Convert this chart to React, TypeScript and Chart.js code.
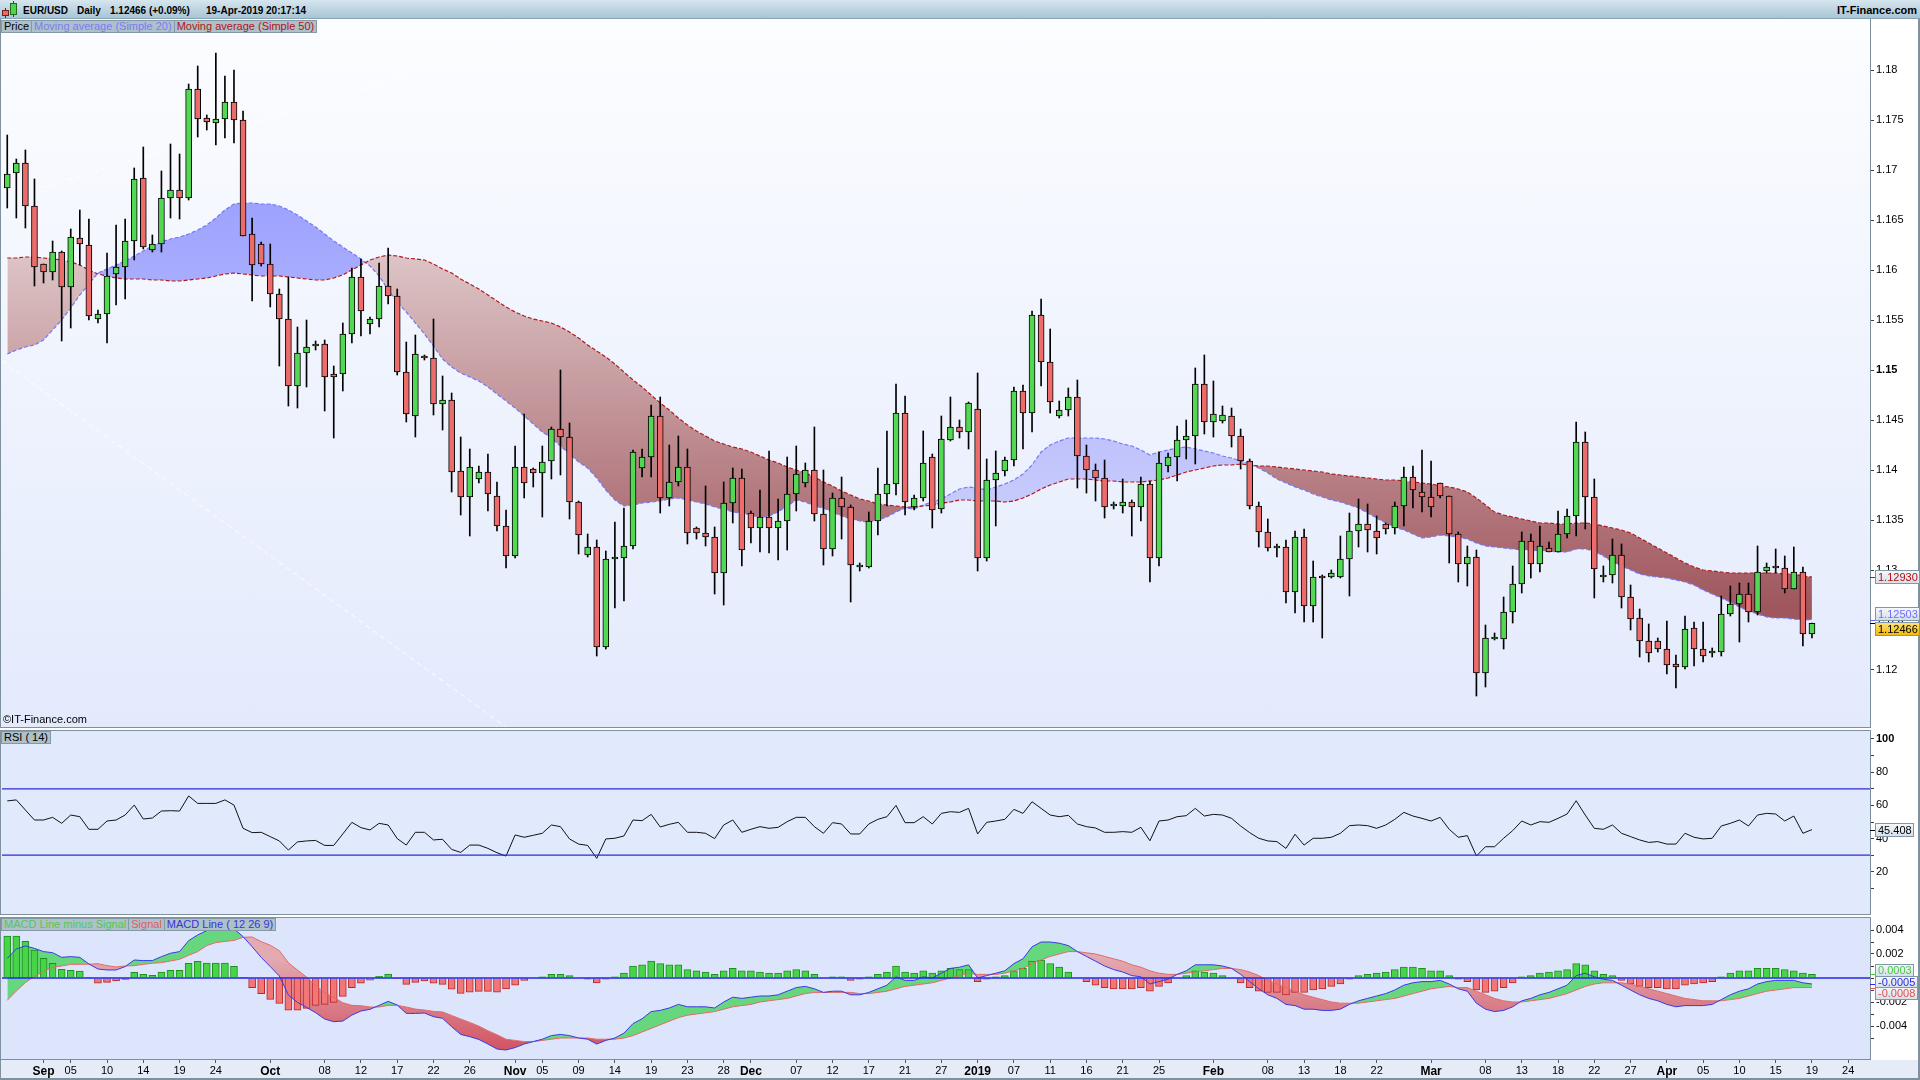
import React, { useEffect, useRef } from 'react';
import { Chart, registerables } from 'chart.js';

Chart.register(...registerables);

const FONT = '"Liberation Sans", Arial, Helvetica, sans-serif';

// ---------------- DATA ----------------
const firstDate = '2018-08-28';
const lastAxisDate = '2019-04-26';
const closedDates = ['2018-12-25', '2019-01-01'];

const opens = [1.1682,1.1697,1.1707,1.1664,1.1606,1.1598,1.1618,1.1583,1.1632,1.1625,
1.1551,1.1556,1.1596,1.1603,1.1629,1.1692,1.1620,1.1626,1.1672,1.1680,
1.1672,1.1781,1.1752,1.1747,1.1751,1.1768,1.1750,1.1636,1.1626,1.1606,
1.1576,1.1551,1.1484,1.1517,1.1524,1.1526,1.1496,1.1496,1.1536,1.1593,
1.1546,1.1551,1.1584,1.1574,1.1498,1.1454,1.1513,1.1512,1.1466,1.1470,
1.1399,1.1373,1.1391,1.1398,1.1374,1.1344,1.1314,1.1403,1.1401,1.1397,
1.1409,1.1441,1.1433,1.1368,1.1315,1.1323,1.1223,1.1311,1.1312,1.1324,
1.1402,1.1413,1.1454,1.1372,1.1388,1.1403,1.1342,1.1337,1.1333,1.1297,
1.1367,1.1392,1.1357,1.1342,1.1353,1.1342,1.1349,1.1376,1.1387,1.1400,
1.1356,1.1321,1.1372,1.1363,1.1303,1.1303,1.1349,1.1376,1.1386,1.1457,
1.1363,1.1372,1.1413,1.1361,1.1430,1.1443,1.1438,1.1461,1.1312,1.1390,
1.1399,1.1410,1.1479,1.1457,1.1555,1.1508,1.1454,1.1460,1.1473,1.1414,
1.1400,1.1392,1.1364,1.1364,1.1368,1.1363,1.1386,1.1312,1.1404,1.1413,
1.1430,1.1434,1.1486,1.1448,1.1449,1.1454,1.1434,1.1409,1.1364,1.1338,
1.1322,1.1323,1.1278,1.1333,1.1264,1.1293,1.1293,1.1293,1.1311,1.1339,
1.1346,1.1339,1.1346,1.1342,1.1364,1.1393,1.1378,1.1373,1.1387,1.1374,
1.1336,1.1306,1.1313,1.1197,1.1231,1.1231,1.1258,1.1286,1.1329,1.1306,
1.1322,1.1318,1.1336,1.1354,1.1428,1.1373,1.1293,1.1295,1.1315,1.1273,
1.1252,1.1229,1.1229,1.1221,1.1206,1.1203,1.1242,1.1221,1.1217,1.1218,
1.1256,1.1266,1.1276,1.1258,1.1299,1.1303,1.1302,1.1281,1.1298,1.1236];

const highs = [1.1735,1.1711,1.1720,1.1691,1.1606,1.1629,1.1619,1.1641,1.1660,1.1651,
1.1560,1.1617,1.1645,1.1651,1.1702,1.1723,1.1635,1.1699,1.1726,1.1716,
1.1786,1.1804,1.1755,1.1817,1.1794,1.1800,1.1759,1.1652,1.1628,1.1626,
1.1581,1.1593,1.1543,1.1550,1.1529,1.1530,1.1504,1.1547,1.1602,1.1611,
1.1553,1.1607,1.1622,1.1581,1.1528,1.1535,1.1515,1.1551,1.1494,1.1477,
1.1433,1.1421,1.1404,1.1416,1.1388,1.1360,1.1424,1.1456,1.1402,1.1424,
1.1443,1.1500,1.1447,1.1369,1.1336,1.1330,1.1319,1.1348,1.1362,1.1420,
1.1421,1.1465,1.1473,1.1425,1.1434,1.1421,1.1343,1.1384,1.1343,1.1388,
1.1402,1.1401,1.1359,1.1380,1.1419,1.1371,1.1413,1.1424,1.1407,1.1443,
1.1400,1.1377,1.1393,1.1365,1.1307,1.1358,1.1402,1.1439,1.1486,1.1474,
1.1375,1.1439,1.1416,1.1454,1.1473,1.1450,1.1468,1.1497,1.1411,1.1419,
1.1413,1.1483,1.1485,1.1559,1.1571,1.1541,1.1469,1.1482,1.1490,1.1425,
1.1406,1.1410,1.1368,1.1391,1.1370,1.1393,1.1389,1.1418,1.1417,1.1444,
1.1450,1.1502,1.1515,1.1489,1.1464,1.1462,1.1441,1.1411,1.1368,1.1351,
1.1326,1.1330,1.1339,1.1341,1.1309,1.1295,1.1300,1.1334,1.1357,1.1371,
1.1366,1.1354,1.1347,1.1368,1.1403,1.1404,1.1420,1.1409,1.1387,1.1374,
1.1338,1.1324,1.1320,1.1245,1.1237,1.1273,1.1304,1.1338,1.1336,1.1344,
1.1328,1.1359,1.1361,1.1448,1.1438,1.1391,1.1304,1.1331,1.1326,1.1285,
1.1261,1.1246,1.1232,1.1249,1.1215,1.1254,1.1248,1.1248,1.1222,1.1274,
1.1284,1.1287,1.1287,1.1324,1.1307,1.1321,1.1314,1.1323,1.1303,1.1247];

const lows = [1.1662,1.1652,1.1642,1.1584,1.1587,1.1590,1.1529,1.1542,1.1605,1.1550,
1.1547,1.1527,1.1565,1.1571,1.1610,1.1621,1.1618,1.1618,1.1652,1.1651,
1.1670,1.1733,1.1740,1.1725,1.1732,1.1727,1.1634,1.1569,1.1604,1.1563,
1.1504,1.1464,1.1462,1.1483,1.1520,1.1459,1.1432,1.1479,1.1527,1.1534,
1.1536,1.1543,1.1566,1.1495,1.1448,1.1433,1.1510,1.1455,1.1440,1.1378,
1.1355,1.1334,1.1387,1.1359,1.1339,1.1302,1.1312,1.1372,1.1383,1.1353,
1.1391,1.1395,1.1351,1.1316,1.1313,1.1214,1.1221,1.1262,1.1269,1.1321,
1.1393,1.1393,1.1357,1.1364,1.1384,1.1326,1.1331,1.1324,1.1276,1.1265,
1.1347,1.1304,1.1327,1.1318,1.1317,1.1310,1.1320,1.1359,1.1383,1.1349,
1.1305,1.1314,1.1331,1.1268,1.1299,1.1302,1.1335,1.1364,1.1375,1.1355,
1.1360,1.1369,1.1342,1.1357,1.1429,1.1432,1.1421,1.1299,1.1309,1.1344,
1.1394,1.1404,1.1421,1.1438,1.1484,1.1457,1.1452,1.1454,1.1382,1.1377,
1.1369,1.1352,1.1361,1.1357,1.1334,1.1349,1.1288,1.1304,1.1398,1.1389,
1.1411,1.1406,1.1436,1.1433,1.1447,1.1423,1.1401,1.1361,1.1323,1.1319,
1.1313,1.1267,1.1257,1.1248,1.1248,1.1232,1.1292,1.1292,1.1274,1.1323,
1.1318,1.1316,1.1336,1.1336,1.1344,1.1362,1.1358,1.1353,1.1372,1.1307,
1.1288,1.1284,1.1174,1.1183,1.1230,1.1221,1.1247,1.1277,1.1292,1.1298,
1.1318,1.1318,1.1332,1.1334,1.1341,1.1272,1.1288,1.1287,1.1262,1.1240,
1.1213,1.1208,1.1218,1.1196,1.1182,1.1201,1.1204,1.1208,1.1213,1.1214,
1.1254,1.1228,1.1248,1.1255,1.1297,1.1297,1.1277,1.1281,1.1224,1.1232];

const closes = [1.1696,1.1707,1.1664,1.1603,1.1598,1.1618,1.1583,1.1633,1.1626,1.1554,
1.1556,1.1594,1.1603,1.1629,1.1691,1.1623,1.1626,1.1672,1.1680,1.1672,
1.1781,1.1751,1.1748,1.1751,1.1768,1.1750,1.1634,1.1605,1.1606,1.1576,
1.1551,1.1484,1.1517,1.1523,1.1526,1.1493,1.1493,1.1536,1.1593,1.1559,
1.1551,1.1584,1.1574,1.1498,1.1456,1.1516,1.1512,1.1466,1.1470,1.1398,
1.1373,1.1403,1.1398,1.1376,1.1344,1.1314,1.1403,1.1387,1.1397,1.1408,
1.1441,1.1433,1.1368,1.1335,1.1323,1.1223,1.1311,1.1311,1.1324,1.1418,
1.1413,1.1454,1.1372,1.1388,1.1403,1.1337,1.1337,1.1333,1.1297,1.1367,
1.1392,1.1320,1.1342,1.1353,1.1342,1.1349,1.1376,1.1396,1.1400,1.1356,
1.1321,1.1372,1.1363,1.1305,1.1303,1.1349,1.1376,1.1386,1.1457,1.1368,
1.1372,1.1407,1.1360,1.1431,1.1443,1.1438,1.1467,1.1312,1.1390,1.1397,
1.1410,1.1479,1.1457,1.1555,1.1508,1.1468,1.1460,1.1473,1.1414,1.1400,
1.1392,1.1363,1.1364,1.1368,1.1363,1.1386,1.1312,1.1407,1.1413,1.1430,
1.1434,1.1486,1.1448,1.1456,1.1455,1.1434,1.1409,1.1364,1.1338,1.1322,
1.1322,1.1278,1.1333,1.1264,1.1293,1.1292,1.1297,1.1311,1.1339,1.1346,
1.1340,1.1332,1.1341,1.1364,1.1393,1.1380,1.1373,1.1363,1.1374,1.1336,
1.1306,1.1313,1.1197,1.1232,1.1231,1.1258,1.1286,1.1329,1.1306,1.1324,
1.1318,1.1336,1.1354,1.1428,1.1373,1.1301,1.1295,1.1315,1.1273,1.1251,
1.1229,1.1217,1.1221,1.1205,1.1203,1.1241,1.1221,1.1214,1.1217,1.1256,
1.1266,1.1276,1.1258,1.1298,1.1303,1.1302,1.1281,1.1298,1.1236,1.12466];

const ma20 = [1.1516,1.1520,1.1523,1.1525,1.1530,1.1540,1.1550,1.1562,1.1575,1.1586,
1.1597,1.1601,1.1605,1.1609,1.1614,1.1619,1.1624,1.1628,1.1631,1.1633,
1.1636,1.1640,1.1645,1.1652,1.1660,1.1666,1.1667,1.1667,1.1666,1.1666,
1.1664,1.1660,1.1655,1.1649,1.1643,1.1636,1.1629,1.1623,1.1617,1.1611,
1.1604,1.1594,1.1580,1.1568,1.1558,1.1547,1.1536,1.1524,1.1511,1.1503,
1.1497,1.1493,1.1489,1.1483,1.1476,1.1469,1.1462,1.1454,1.1446,1.1438,
1.1432,1.1424,1.1416,1.1408,1.1402,1.1392,1.1380,1.1370,1.1364,1.1365,
1.1367,1.1368,1.1369,1.1371,1.1372,1.1370,1.1368,1.1366,1.1363,1.1361,
1.1358,1.1357,1.1355,1.1352,1.1354,1.1358,1.1364,1.1370,1.1368,1.1364,
1.1362,1.1358,1.1354,1.1351,1.1349,1.1348,1.1350,1.1353,1.1358,1.1362,
1.1361,1.1365,1.1368,1.1371,1.1376,1.1381,1.1383,1.1382,1.1380,1.1383,
1.1386,1.1390,1.1396,1.1405,1.1418,1.1425,1.1429,1.1432,1.1432,1.1432,
1.1432,1.1431,1.1429,1.1426,1.1424,1.1420,1.1415,1.1418,1.1420,1.1422,
1.1423,1.1421,1.1419,1.1417,1.1414,1.1412,1.1409,1.1406,1.1402,1.1397,
1.1391,1.1387,1.1383,1.1380,1.1376,1.1373,1.1370,1.1368,1.1365,1.1362,
1.1357,1.1352,1.1347,1.1343,1.1340,1.1336,1.1332,1.1333,1.1335,1.1334,
1.1333,1.1331,1.1327,1.1324,1.1323,1.1322,1.1321,1.1320,1.1320,1.1319,
1.1319,1.1318,1.1318,1.1321,1.1321,1.1319,1.1314,1.1308,1.1304,1.1300,
1.1296,1.1294,1.1293,1.1292,1.1290,1.1288,1.1285,1.1280,1.1276,1.1272,
1.1268,1.1263,1.1259,1.1256,1.1253,1.1252,1.1252,1.1251,1.1250,1.12503];

const ma50 = [1.1612,1.1612,1.1613,1.1613,1.1612,1.1611,1.1610,1.1608,1.1605,1.1600,
1.1596,1.1594,1.1592,1.1591,1.1591,1.1591,1.1590,1.1590,1.1589,1.1589,
1.1590,1.1591,1.1592,1.1594,1.1596,1.1597,1.1596,1.1595,1.1594,1.1594,
1.1594,1.1593,1.1592,1.1591,1.1590,1.1590,1.1592,1.1595,1.1600,1.1605,
1.1610,1.1613,1.1615,1.1614,1.1612,1.1611,1.1610,1.1606,1.1601,1.1597,
1.1591,1.1586,1.1581,1.1575,1.1569,1.1563,1.1558,1.1554,1.1551,1.1549,
1.1547,1.1543,1.1538,1.1532,1.1525,1.1519,1.1513,1.1506,1.1498,1.1490,
1.1483,1.1475,1.1467,1.1460,1.1452,1.1445,1.1439,1.1434,1.1429,1.1426,
1.1423,1.1421,1.1418,1.1414,1.1410,1.1407,1.1403,1.1400,1.1397,1.1393,
1.1388,1.1384,1.1379,1.1375,1.1371,1.1369,1.1366,1.1365,1.1364,1.1363,
1.1363,1.1364,1.1365,1.1367,1.1368,1.1370,1.1370,1.1369,1.1369,1.1369,
1.1368,1.1369,1.1372,1.1376,1.1381,1.1385,1.1388,1.1391,1.1391,1.1391,
1.1390,1.1389,1.1389,1.1388,1.1388,1.1388,1.1389,1.1390,1.1392,1.1395,
1.1398,1.1400,1.1402,1.1404,1.1405,1.1405,1.1406,1.1405,1.1404,1.1404,
1.1403,1.1402,1.1401,1.1400,1.1399,1.1398,1.1396,1.1395,1.1394,1.1393,
1.1392,1.1391,1.1390,1.1390,1.1389,1.1388,1.1387,1.1386,1.1384,1.1383,
1.1381,1.1378,1.1372,1.1365,1.1358,1.1355,1.1353,1.1351,1.1349,1.1347,
1.1347,1.1346,1.1346,1.1347,1.1347,1.1346,1.1344,1.1342,1.1340,1.1337,
1.1332,1.1327,1.1322,1.1317,1.1312,1.1307,1.1303,1.1300,1.1299,1.1298,
1.1297,1.1297,1.1297,1.1297,1.1297,1.1297,1.1296,1.1296,1.1294,1.1293];

// faint white trend lines on the price panel: [barIndex, price]
const trendLineLow = [[-0.6, 1.1509], [55.0, 1.1143]];
const trendLineHigh = [[1.9, 1.1677], [44.2, 1.1795]];

const rsi14 = [62.7,63.3,57.2,51.2,51.2,52.8,49.2,54.2,53.2,45.6,
45.6,50.6,51.2,54.2,60.2,51.8,52.4,56.6,56.8,56.6,
65.7,61.2,61.2,61.2,63.3,60.2,46.2,43.6,43.8,41.2,
38.6,33.1,38.0,38.6,38.9,35.9,35.9,42.8,49.8,46.6,
45.2,49.2,48.2,40.0,36.1,43.8,43.8,39.2,39.6,33.5,
31.7,36.1,36.1,34.1,31.5,29.5,42.2,40.8,42.0,43.2,
48.2,47.2,39.8,36.7,35.9,28.1,39.8,40.2,41.6,51.2,
50.8,54.6,47.0,48.6,49.8,43.8,43.8,43.2,40.0,48.2,
51.2,43.8,45.6,47.2,46.2,46.8,50.2,52.8,52.8,47.2,
43.2,49.6,48.8,42.8,42.8,48.8,51.6,53.2,60.0,49.6,
49.6,53.2,48.8,55.2,56.2,55.8,58.2,42.8,49.8,50.6,
51.6,57.6,55.2,62.2,58.2,54.2,53.2,54.0,48.8,47.2,
46.4,43.8,43.8,44.2,43.8,46.8,38.7,50.6,51.2,53.2,
53.8,58.2,53.6,54.6,54.2,52.2,47.6,43.6,40.2,38.6,
38.2,34.1,42.6,36.1,40.2,40.2,40.8,43.2,47.8,48.2,
47.8,46.2,48.2,51.6,55.8,53.6,52.2,50.6,52.8,45.6,
40.8,41.8,29.5,35.1,35.1,40.2,44.8,50.6,48.2,50.2,
49.8,52.2,54.8,62.8,54.2,46.2,45.6,48.2,43.2,41.2,
39.2,37.7,38.2,36.7,36.7,43.2,40.8,39.8,40.2,47.6,
49.2,51.2,47.6,54.2,55.2,54.8,50.6,53.6,43.2,45.408];
const rsiLevels = [70, 30];

const macdLine = [0.00164,0.00242,0.00267,0.00247,0.00220,0.00211,0.00172,0.00178,0.00172,0.00117,
0.00075,0.00067,0.00067,0.00095,0.00150,0.00145,0.00145,0.00178,0.00206,0.00220,
0.00311,0.00359,0.00395,0.00420,0.00430,0.00410,0.00345,0.00261,0.00172,0.00095,
0.00017,-0.00142,-0.00203,-0.00245,-0.00289,-0.00342,-0.00364,-0.00359,-0.00309,-0.00275,
-0.00261,-0.00228,-0.00195,-0.00225,-0.00295,-0.00295,-0.00292,-0.00322,-0.00336,-0.00406,
-0.00470,-0.00489,-0.00512,-0.00550,-0.00592,-0.0060,-0.0058,-0.0055,-0.0053,-0.0051,
-0.0048,-0.0047,-0.0048,-0.0050,-0.0051,-0.0055,-0.0052,-0.0050,-0.0046,-0.0038,
-0.0034,-0.0028,-0.0027,-0.0025,-0.0022,-0.0024,-0.0024,-0.0024,-0.0025,-0.0020,
-0.0016,-0.0017,-0.0016,-0.0015,-0.0015,-0.0014,-0.0011,-0.0008,-0.0007,-0.0009,
-0.0012,-0.0011,-0.0011,-0.0014,-0.0014,-0.0012,-0.0009,-0.0006,0.0001,-0.0002,
-0.0002,0.0001,0.0000,0.0004,0.0008,0.0009,0.0011,0.0000,0.0002,0.0004,
0.0006,0.0012,0.0016,0.0026,0.0030,0.0030,0.0029,0.0027,0.0022,0.0018,
0.0014,0.0010,0.0007,0.0005,0.0002,0.0001,-0.0005,-0.0003,-0.0001,0.0003,
0.0006,0.0011,0.0011,0.0011,0.0010,0.0008,0.0003,-0.0003,-0.0009,-0.0014,
-0.0017,-0.0022,-0.0023,-0.0026,-0.0026,-0.0027,-0.0027,-0.0026,-0.0022,-0.0019,
-0.0017,-0.0015,-0.0013,-0.0010,-0.0006,-0.0004,-0.0003,-0.0003,-0.0002,-0.0005,
-0.0009,-0.0011,-0.0021,-0.0026,-0.0028,-0.0027,-0.0024,-0.0019,-0.0017,-0.0014,
-0.0012,-0.0009,-0.0006,0.0002,0.0004,0.0001,-0.0001,-0.0002,-0.0006,-0.0010,
-0.0014,-0.0017,-0.0019,-0.0022,-0.0024,-0.0023,-0.0023,-0.0023,-0.0022,-0.0018,
-0.0014,-0.0011,-0.0009,-0.0005,-0.0003,-0.0002,-0.0002,-0.0002,-0.0004,-0.0005];

const macdSignal = [-0.00186,-0.00108,-0.00038,0.00014,0.00056,0.00089,0.00100,0.00114,0.00114,0.00115,
0.00119,0.00103,0.00092,0.00100,0.00103,0.00114,0.00123,0.00128,0.00142,0.00156,
0.00189,0.00220,0.00270,0.00295,0.00305,0.00313,0.00339,0.00342,0.00303,0.00273,
0.00228,0.00127,0.00066,0.00008,-0.00061,-0.00122,-0.00161,-0.00206,-0.00228,-0.00231,
-0.00242,-0.00242,-0.00228,-0.00228,-0.00242,-0.00259,-0.00267,-0.00278,-0.00283,-0.00312,
-0.00342,-0.00370,-0.00401,-0.00439,-0.00473,-0.0051,-0.0052,-0.0053,-0.0053,-0.0052,
-0.0051,-0.0050,-0.0050,-0.0050,-0.0050,-0.0051,-0.0051,-0.0051,-0.0050,-0.0048,
-0.0045,-0.0042,-0.0039,-0.0036,-0.0033,-0.0031,-0.0030,-0.0029,-0.0028,-0.0026,
-0.0024,-0.0023,-0.0022,-0.0020,-0.0019,-0.0018,-0.0017,-0.0015,-0.0013,-0.0012,
-0.0012,-0.0012,-0.0012,-0.0012,-0.0013,-0.0013,-0.0012,-0.0011,-0.0009,-0.0007,
-0.0006,-0.0005,-0.0004,-0.0002,0.0000,0.0002,0.0004,0.0003,0.0003,0.0003,
0.0004,0.0006,0.0008,0.0012,0.0015,0.0018,0.0020,0.0022,0.0022,0.0021,
0.0020,0.0018,0.0016,0.0014,0.0011,0.0009,0.0006,0.0004,0.0003,0.0003,
0.0004,0.0005,0.0006,0.0007,0.0008,0.0008,0.0007,0.0005,0.0002,-0.0002,
-0.0005,-0.0008,-0.0011,-0.0014,-0.0016,-0.0018,-0.0020,-0.0021,-0.0021,-0.0021,
-0.0020,-0.0019,-0.0018,-0.0017,-0.0015,-0.0013,-0.0011,-0.0009,-0.0008,-0.0007,
-0.0008,-0.0008,-0.0011,-0.0014,-0.0017,-0.0019,-0.0020,-0.0020,-0.0019,-0.0018,
-0.0017,-0.0015,-0.0013,-0.0010,-0.0007,-0.0005,-0.0004,-0.0004,-0.0004,-0.0005,
-0.0007,-0.0009,-0.0011,-0.0013,-0.0015,-0.0017,-0.0018,-0.0019,-0.0019,-0.0019,
-0.0018,-0.0017,-0.0015,-0.0013,-0.0011,-0.0010,-0.0009,-0.0008,-0.0008,-0.0008];

const macdHist = [0.00350,0.00350,0.00305,0.00233,0.00164,0.00122,0.00072,0.00064,0.00058,0.00002,
-0.00044,-0.00036,-0.00025,-0.00011,0.00047,0.00031,0.00022,0.00050,0.00064,0.00064,
0.00122,0.00139,0.00125,0.00125,0.00125,0.00097,0.00006,-0.00081,-0.00131,-0.00178,
-0.00211,-0.00269,-0.00269,-0.00253,-0.00228,-0.00220,-0.00203,-0.00153,-0.00081,-0.00044,
-0.00019,0.00014,0.00033,-0.00003,-0.00053,-0.00036,-0.00025,-0.00044,-0.00053,-0.00094,
-0.00128,-0.00119,-0.00111,-0.00111,-0.00119,-0.0009,-0.0006,-0.0002,0.0000,0.0001,
0.0003,0.0003,0.0002,0.0000,-0.0001,-0.0004,-0.0001,0.0001,0.0004,0.0010,
0.0011,0.0014,0.0012,0.0011,0.0011,0.0007,0.0006,0.0005,0.0003,0.0006,
0.0008,0.0006,0.0006,0.0005,0.0004,0.0004,0.0006,0.0007,0.0006,0.0003,
0.0000,0.0001,0.0001,-0.0002,-0.0001,0.0001,0.0003,0.0005,0.0010,0.0005,
0.0004,0.0006,0.0004,0.0006,0.0008,0.0007,0.0007,-0.0003,-0.0001,0.0001,
0.0002,0.0006,0.0008,0.0014,0.0015,0.0012,0.0009,0.0005,0.0000,-0.0003,
-0.0006,-0.0008,-0.0009,-0.0009,-0.0009,-0.0008,-0.0011,-0.0007,-0.0004,0.0000,
0.0002,0.0006,0.0005,0.0004,0.0002,0.0000,-0.0004,-0.0008,-0.0011,-0.0012,
-0.0012,-0.0014,-0.0012,-0.0012,-0.0010,-0.0009,-0.0007,-0.0005,-0.0001,0.0002,
0.0003,0.0004,0.0005,0.0007,0.0009,0.0009,0.0008,0.0006,0.0006,0.0002,
-0.0001,-0.0003,-0.0010,-0.0012,-0.0011,-0.0008,-0.0004,0.0001,0.0002,0.0004,
0.0005,0.0006,0.0007,0.0012,0.0011,0.0006,0.0003,0.0002,-0.0002,-0.0005,
-0.0007,-0.0008,-0.0008,-0.0009,-0.0009,-0.0006,-0.0005,-0.0004,-0.0003,0.0001,
0.0004,0.0006,0.0006,0.0008,0.0008,0.0008,0.0007,0.0006,0.0004,0.0003];

const priceTickLabels = ['1.18','1.175','1.17','1.165','1.16','1.155','1.15','1.145','1.14','1.135','1.13','1.125','1.12'];
const priceBoldLabels = ['1.15'];
const rsiTickValues = [100, 90, 80, 70, 60, 50, 40, 30, 20, 10];
const rsiTickLabels = ['100', '', '80', '', '60', '', '40', '', '20', ''];
const rsiBoldLabels = ['100'];
const macdTickValues = [0.004, 0.003, 0.002, 0.001, 0, -0.001, -0.002, -0.003, -0.004, -0.005];
const macdTickLabels = ['0.004', '', '0.002', '', '', '', '-0.002', '', '-0.004', ''];
const xTickDates = ['2018-09-02','2018-09-05','2018-09-10','2018-09-14','2018-09-19','2018-09-24',
'2018-10-01','2018-10-08','2018-10-12','2018-10-17','2018-10-22','2018-10-26',
'2018-11-01','2018-11-05','2018-11-09','2018-11-14','2018-11-19','2018-11-23','2018-11-28',
'2018-12-02','2018-12-07','2018-12-12','2018-12-17','2018-12-21','2018-12-27',
'2019-01-02','2019-01-07','2019-01-11','2019-01-16','2019-01-21','2019-01-25',
'2019-02-01','2019-02-08','2019-02-13','2019-02-18','2019-02-22',
'2019-03-01','2019-03-08','2019-03-13','2019-03-18','2019-03-22','2019-03-27',
'2019-04-01','2019-04-05','2019-04-10','2019-04-15','2019-04-19','2019-04-24'];
const xTickLabels = ['Sep','05','10','14','19','24',
'Oct','08','12','17','22','26',
'Nov','05','09','14','19','23','28',
'Dec','07','12','17','21','27',
'2019','07','11','16','21','25',
'Feb','08','13','18','22',
'Mar','08','13','18','22','27',
'Apr','05','10','15','19','24'];
const monthLabels = ['Sep','Oct','Nov','Dec','2019','Feb','Mar','Apr'];

// visible ranges of each panel
const X_MIN = -0.58, X_MAX = 205.4;
const PRICE_MIN = 1.1143, PRICE_MAX = 1.1851;
const RSI_MIN = -5.4, RSI_MAX = 104.8;
const MACD_MIN = -0.00675, MACD_MAX = 0.005;

// ---------------- helpers ----------------
function tradingDates(): string[] {
  const out: string[] = [];
  const d = new Date(firstDate + 'T00:00:00Z');
  const end = new Date(lastAxisDate + 'T00:00:00Z').getTime();
  while (d.getTime() <= end) {
    const key = d.toISOString().slice(0, 10);
    if (d.getUTCDay() !== 6 && !closedDates.includes(key)) out.push(key);
    d.setUTCDate(d.getUTCDate() + 1);
  }
  return out;
}

const pts = (arr: number[]) => arr.map((v, i) => ({ x: i, y: v }));
const LIGHT_BG = ['#f7f9fc', '#d3dde9'];
const GOLD_BG = ['#ffe57a', '#f2b600'];

type Box = { value: number; text: string; color: string; tick: string; bg: string[] };

function boxPlugin(id: string, groups: Box[][], sep: number, h: number) {
  return {
    id,
    afterDraw(chart: any) {
      const { ctx, chartArea, scales } = chart;
      const ys = scales.y;
      ctx.save();
      ctx.font = `11px ${FONT}`;
      ctx.textBaseline = 'middle';
      groups.forEach((group) => {
        const py = group.map((b) => ys.getPixelForValue(b.value));
        const mean = py.reduce((a, b) => a + b, 0) / py.length;
        group.forEach((b, k) => {
          const cy = mean + (k - (group.length - 1) / 2) * sep;
          const x0 = chartArea.right + 5;
          const w = Math.ceil(ctx.measureText(b.text).width) + 5;
          const top = Math.round(cy - h / 2);
          ctx.strokeStyle = b.tick;
          ctx.lineWidth = 1;
          ctx.beginPath();
          ctx.moveTo(chartArea.right, Math.round(py[k]) + 0.5);
          ctx.lineTo(x0, Math.round(py[k]) + 0.5);
          ctx.stroke();
          const g = ctx.createLinearGradient(0, top, 0, top + h);
          g.addColorStop(0, b.bg[0]);
          g.addColorStop(1, b.bg[1]);
          ctx.fillStyle = g;
          ctx.fillRect(x0, top, w, h);
          ctx.strokeStyle = '#8196a6';
          ctx.strokeRect(x0 + 0.5, top + 0.5, w - 1, h - 1);
          ctx.fillStyle = b.color;
          ctx.fillText(b.text, x0 + 3, top + h / 2 + 0.5);
        });
      });
      ctx.restore();
    },
  };
}

function noPad(s: any) {
  s.paddingTop = 0;
  s.paddingBottom = 0;
  s.paddingLeft = 0;
  s.paddingRight = 0;
}

function yAxis(min: number, max: number, values: number[], labels: string[], bold: string[]) {
  return {
    type: 'linear',
    position: 'right',
    min,
    max,
    afterFit: (s: any) => { s.width = 50; noPad(s); },
    afterBuildTicks: (s: any) => { s.ticks = values.map((v) => ({ value: v })); },
    grid: { display: true, drawOnChartArea: false, drawTicks: true, tickLength: 4, color: '#404040', lineWidth: 1 },
    border: { display: true, color: '#7d8e9b', width: 1 },
    ticks: {
      autoSkip: false,
      padding: 2,
      color: '#000',
      font: (c: any) => ({ family: FONT, size: 11, weight: bold.includes(labels[c.index]) ? 'bold' : 'normal' }),
      callback: (_v: any, i: number) => labels[i],
    },
  };
}

const hiddenX = { type: 'linear', min: X_MIN, max: X_MAX, offset: false, display: false };

const baseOptions = {
  responsive: false,
  animation: false,
  events: [],
  layout: { padding: 0, autoPadding: false },
};

export default function App() {
  const priceRef = useRef<HTMLCanvasElement>(null);
  const rsiRef = useRef<HTMLCanvasElement>(null);
  const macdRef = useRef<HTMLCanvasElement>(null);

  useEffect(() => {
    document.body.style.margin = '0';
    const charts: Chart[] = [];
    const dates = tradingDates();
    const xTickIdx = xTickDates.map((d) => dates.indexOf(d));
    const priceTickValues = priceTickLabels.map((s) => parseFloat(s));

    // ---------- price ----------
    const pc = priceRef.current!;
    const pctx = pc.getContext('2d')!;
    const redGrad = pctx.createLinearGradient(0, 240, 0, 590);
    redGrad.addColorStop(0, '#dcc3c5');
    redGrad.addColorStop(1, '#9f565d');
    const blueGrad = pctx.createLinearGradient(0, 140, 0, 470);
    blueGrad.addColorStop(0, '#979cfe');
    blueGrad.addColorStop(1, '#c6c9fc');
    const n = closes.length;

    charts.push(new Chart(pc, {
      type: 'bar',
      data: {
        datasets: [
          { type: 'line', data: trendLineLow.map(([x, y]) => ({ x, y })), borderColor: 'rgba(255,255,255,0.95)', borderWidth: 1, borderDash: [5, 4], pointRadius: 0, order: 9 },
          { type: 'line', data: trendLineHigh.map(([x, y]) => ({ x, y })), borderColor: 'rgba(255,255,255,0.9)', borderWidth: 1, borderDash: [5, 4], pointRadius: 0, order: 9 },
          { type: 'line', data: pts(ma20), borderColor: '#7478f6', borderWidth: 1.2, borderDash: [4, 2], pointRadius: 0, fill: { target: '+1', above: blueGrad, below: redGrad }, order: 6 },
          { type: 'line', data: pts(ma50), borderColor: '#b41818', borderWidth: 1.2, borderDash: [4, 2], pointRadius: 0, fill: false, order: 5 },
          { type: 'bar', data: lows.map((l, i) => ({ x: i, y: [l, highs[i]] })), backgroundColor: '#000', barThickness: 1, grouped: false, order: 2 },
          {
            type: 'bar',
            data: opens.map((o, i) => ({ x: i, y: [o, closes[i]] })),
            backgroundColor: opens.map((o, i) => (closes[i] >= o ? '#52d852' : '#ec6b6b')),
            borderColor: '#000', borderWidth: 1, borderSkipped: false, barThickness: 6, minBarLength: 2, grouped: false, order: 1,
          },
        ],
      },
      options: {
        ...baseOptions,
        plugins: { legend: { display: false }, tooltip: { enabled: false }, filler: { drawTime: 'beforeDatasetsDraw' } },
        scales: {
          x: hiddenX,
          y: yAxis(PRICE_MIN, PRICE_MAX, priceTickValues, priceTickLabels, priceBoldLabels),
        },
      } as any,
      plugins: [boxPlugin('priceBoxes', [
        [{ value: ma50[n - 1], text: ma50[n - 1].toFixed(5), color: '#b01010', tick: '#b01010', bg: LIGHT_BG }],
        [
          { value: ma20[n - 1], text: ma20[n - 1].toFixed(5), color: '#6c6cff', tick: '#5a5aff', bg: LIGHT_BG },
          { value: closes[n - 1], text: closes[n - 1].toFixed(5), color: '#000', tick: '#000', bg: GOLD_BG },
        ],
      ], 15, 14)],
    } as any));

    // ---------- RSI ----------
    const rc = rsiRef.current!;
    charts.push(new Chart(rc, {
      type: 'line',
      data: {
        datasets: [
          ...rsiLevels.map((lv) => ({ data: [{ x: X_MIN, y: lv }, { x: X_MAX, y: lv }], borderColor: '#2b2bdc', borderWidth: 1.2, pointRadius: 0, order: 1 })),
          { data: pts(rsi14), borderColor: '#111', borderWidth: 1, pointRadius: 0, order: 2 },
        ],
      },
      options: {
        ...baseOptions,
        plugins: { legend: { display: false }, tooltip: { enabled: false } },
        scales: {
          x: hiddenX,
          y: yAxis(RSI_MIN, RSI_MAX, rsiTickValues, rsiTickLabels, rsiBoldLabels),
        },
      } as any,
      plugins: [boxPlugin('rsiBoxes', [[{ value: rsi14[n - 1], text: rsi14[n - 1].toFixed(3), color: '#000', tick: '#000', bg: LIGHT_BG }]], 14, 14)],
    } as any));

    // ---------- MACD ----------
    const mc = macdRef.current!;
    const mctx = mc.getContext('2d')!;
    const macdRed = mctx.createLinearGradient(0, 40, 0, 140);
    macdRed.addColorStop(0, '#e3aab1');
    macdRed.addColorStop(1, '#d04c5c');
    charts.push(new Chart(mc, {
      type: 'bar',
      data: {
        datasets: [
          { type: 'line', data: [{ x: X_MIN, y: 0 }, { x: X_MAX, y: 0 }], borderColor: '#2525e6', borderWidth: 1.6, pointRadius: 0, order: 0 },
          { type: 'line', data: pts(macdLine), borderColor: '#3838e6', borderWidth: 1, pointRadius: 0, fill: { target: '+1', above: 'rgba(96,214,118,0.95)', below: macdRed }, order: 1 },
          { type: 'line', data: pts(macdSignal), borderColor: '#e46868', borderWidth: 1, pointRadius: 0, fill: false, order: 1 },
          {
            type: 'bar',
            data: pts(macdHist),
            backgroundColor: macdHist.map((v) => (v >= 0 ? '#48d448' : '#f27676')),
            borderColor: macdHist.map((v) => (v >= 0 ? '#1d8f1d' : '#b62828')),
            borderWidth: 1, barThickness: 7, grouped: false, order: 3,
          },
        ],
      },
      options: {
        ...baseOptions,
        plugins: { legend: { display: false }, tooltip: { enabled: false }, filler: { drawTime: 'beforeDatasetsDraw' } },
        scales: {
          x: {
            type: 'linear', min: X_MIN, max: X_MAX, offset: false, position: 'bottom',
            afterFit: (s: any) => { s.height = 19; noPad(s); },
            afterBuildTicks: (s: any) => { s.ticks = xTickIdx.map((v) => ({ value: v })); },
            grid: { display: true, drawOnChartArea: false, drawTicks: true, tickLength: 4, color: '#505a64', offset: false },
            border: { display: true, color: '#7d8e9b', width: 1 },
            ticks: {
              autoSkip: false, maxRotation: 0, minRotation: 0, padding: 1, color: '#000',
              font: (c: any) => (monthLabels.includes(xTickLabels[c.index])
                ? { family: FONT, size: 12, weight: 'bold' }
                : { family: FONT, size: 11, weight: 'normal' }),
              callback: (_v: any, i: number) => xTickLabels[i],
            },
          },
          y: yAxis(MACD_MIN, MACD_MAX, macdTickValues, macdTickLabels, []),
        },
      } as any,
      plugins: [boxPlugin('macdBoxes', [[
        { value: macdHist[n - 1], text: macdHist[n - 1].toFixed(4), color: '#46c846', tick: '#46c846', bg: LIGHT_BG },
        { value: macdLine[n - 1], text: macdLine[n - 1].toFixed(4), color: '#2a2ae0', tick: '#2a2ae0', bg: LIGHT_BG },
        { value: macdSignal[n - 1], text: macdSignal[n - 1].toFixed(4), color: '#e05050', tick: '#e05050', bg: LIGHT_BG },
      ]], 11.5, 13)],
    } as any));

    return () => { charts.forEach((c) => c.destroy()); };
  }, []);

  const tab = (text: string, color: string) => (
    <span style={{ display: 'inline-block', height: 13, boxSizing: 'border-box', border: '1px solid #8399a8', background: '#aec0ca', padding: '0 2px', font: `11px ${FONT}`, lineHeight: '11px', color, whiteSpace: 'nowrap', marginRight: -1 }}>{text}</span>
  );
  const abs = (s: any) => ({ position: 'absolute', ...s });
  const line = '#7f919e';

  return (
    <div style={{ position: 'relative', width: 1920, height: 1080, overflow: 'hidden', background: '#ffffff', fontFamily: FONT }}>
      {/* header */}
      <div style={abs({ left: 0, top: 0, width: 1920, height: 19, background: 'linear-gradient(#d6e6ef, #a8c5d6)', borderBottom: '1px solid #8aa3b2', boxSizing: 'border-box' })}>
        <div style={abs({ left: 5, top: 8, width: 1, height: 10, background: '#6a1d1d' })} />
        <div style={abs({ left: 2, top: 10, width: 7, height: 6, background: '#e86a6a', border: '1px solid #7a1f1f', boxSizing: 'border-box' })} />
        <div style={abs({ left: 13, top: 1, width: 1, height: 16, background: '#1c5c1c' })} />
        <div style={abs({ left: 10, top: 3, width: 7, height: 12, background: '#4fd44f', border: '1px solid #1d6d1d', boxSizing: 'border-box' })} />
        <span style={abs({ left: 23, top: 6, font: `bold 10px ${FONT}`, lineHeight: '10px', color: '#000', whiteSpace: 'nowrap' })}>EUR/USD</span>
        <span style={abs({ left: 77, top: 6, font: `bold 10px ${FONT}`, lineHeight: '10px', color: '#000', whiteSpace: 'nowrap' })}>Daily</span>
        <span style={abs({ left: 110, top: 6, font: `bold 10px ${FONT}`, lineHeight: '10px', color: '#000', whiteSpace: 'nowrap' })}>1.12466 (+0.09%)</span>
        <span style={abs({ left: 206, top: 6, font: `bold 10px ${FONT}`, lineHeight: '10px', color: '#000', whiteSpace: 'nowrap' })}>19-Apr-2019 20:17:14</span>
        <span style={abs({ right: 3, top: 5, font: `bold 11px ${FONT}`, lineHeight: '11px', color: '#000', whiteSpace: 'nowrap' })}>IT-Finance.com</span>
      </div>

      {/* panel backgrounds */}
      <div style={abs({ left: 0, top: 19, width: 1871, height: 709, boxSizing: 'border-box', borderLeft: `1px solid ${line}`, borderBottom: `1px solid ${line}`, background: 'linear-gradient(#fcfdff, #e3eafc)' })} />
      <div style={abs({ left: 0, top: 730, width: 1871, height: 185, boxSizing: 'border-box', border: `1px solid ${line}`, borderRight: 'none', background: '#e1e9fc' })} />
      <div style={abs({ left: 0, top: 917, width: 1871, height: 143, boxSizing: 'border-box', border: `1px solid ${line}`, borderRight: 'none', background: '#dce5fc' })} />
      <div style={abs({ left: 0, top: 1060, width: 1920, height: 20, boxSizing: 'border-box', borderLeft: `1px solid ${line}`, borderBottom: `2px solid ${line}`, background: '#e5ebf7' })} />
      <div style={abs({ left: 1918, top: 19, width: 2, height: 1061, background: line })} />

      {/* charts */}
      <canvas ref={priceRef} width={1918} height={708} style={abs({ left: 2, top: 19, width: 1918, height: 708 })} />
      <canvas ref={rsiRef} width={1918} height={183} style={abs({ left: 2, top: 731, width: 1918, height: 183 })} />
      <canvas ref={macdRef} width={1918} height={160} style={abs({ left: 2, top: 918, width: 1918, height: 160 })} />

      {/* legend tabs */}
      <div style={abs({ left: 1, top: 20, display: 'flex' })}>
        {tab('Price', '#000')}
        {tab('Moving average (Simple 20)', '#7a7cf6')}
        {tab('Moving average (Simple 50)', '#b01515')}
      </div>
      <div style={abs({ left: 1, top: 731, display: 'flex' })}>
        {tab('RSI ( 14)', '#000')}
      </div>
      <div style={abs({ left: 1, top: 918, display: 'flex' })}>
        {tab('MACD Line minus Signal', '#52c852')}
        {tab('Signal', '#e25c5c')}
        {tab('MACD Line ( 12 26 9)', '#3535d8')}
      </div>
      <span style={abs({ left: 3, top: 714, font: `11px ${FONT}`, lineHeight: '11px', color: '#000', whiteSpace: 'nowrap' })}>©IT-Finance.com</span>
    </div>
  );
}
